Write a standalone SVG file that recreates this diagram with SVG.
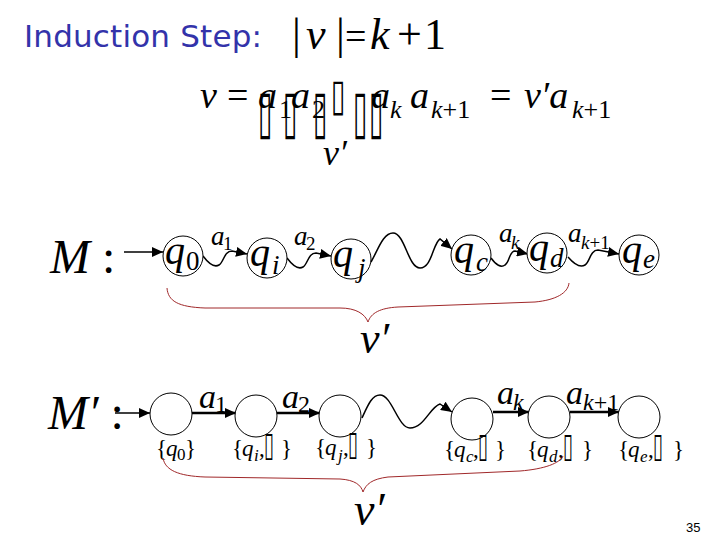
<svg xmlns="http://www.w3.org/2000/svg" width="720" height="540" viewBox="0 0 720 540">
<style>
.m{font-family:"Liberation Serif",serif;font-style:italic;fill:#000}
.r{font-style:normal}
.t{font-family:"DejaVu Sans",sans-serif;font-style:normal;fill:#000}
.st{fill:#fff;stroke:#000;stroke-width:1}
.edge{fill:none;stroke:#000;stroke-width:1.5}
.line{fill:none;stroke:#000;stroke-width:2.5}
.brace{fill:none;stroke:#a0282a;stroke-width:1}
</style>
<defs>
<marker id="ah" markerUnits="userSpaceOnUse" markerWidth="12" markerHeight="10" refX="11" refY="5" orient="auto"><path d="M0,0 L11,5 L0,10 z" fill="#000"/></marker>
</defs>
<rect width="720" height="540" fill="#fff"/>
<g id="title">
<text x="24" y="47" font-family="'DejaVu Sans',sans-serif" font-size="31" fill="#3333aa" textLength="238" lengthAdjust="spacing">Induction Step:</text>
<text class="m" y="49" font-size="44"><tspan class="r" x="292">|</tspan><tspan x="306">v</tspan><tspan class="r" x="336">|</tspan><tspan class="r" x="345" font-size="38">=</tspan><tspan x="370">k</tspan><tspan class="r" x="397">+</tspan><tspan class="r" x="424">1</tspan></text>
</g>
<g id="formula">
<text class="m" font-size="38"><tspan x="200" y="108">v</tspan><tspan class="r" x="227" y="108">=</tspan><tspan x="258" y="108">a</tspan><tspan class="r" x="279" y="118" font-size="26">1</tspan><tspan x="291" y="108">a</tspan><tspan class="r" x="312" y="118" font-size="26">2</tspan><tspan x="371" y="108">a</tspan><tspan x="390" y="118" font-size="26">k</tspan><tspan x="410" y="108">a</tspan><tspan x="431" y="118" font-size="26">k<tspan class="r">+1</tspan></tspan><tspan class="r" x="490" y="108">=</tspan><tspan x="524" y="108">v′a</tspan><tspan x="572" y="118" font-size="26">k<tspan class="r">+1</tspan></tspan></text>
<text class="t" font-size="26" transform="translate(331,110) scale(1,1.7)">▯</text>
<text class="t" font-size="26" transform="translate(258,132) scale(1,2.3)">▯</text>
<text class="t" font-size="26" transform="translate(283,132) scale(1,2.3)">▯</text>
<text class="t" font-size="26" transform="translate(313,132) scale(1,2.3)">▯</text>
<text class="t" font-size="26" transform="translate(353,132) scale(1,2.3)">▯</text>
<text class="t" font-size="26" transform="translate(369,132) scale(1,2.3)">▯</text>
<text class="m" x="323" y="165" font-size="36">v′</text>
</g>
<g id="M-label"><text class="m" x="50" y="273" font-size="48">M <tspan class="r">:</tspan></text></g>
<g id="M-connectors">
<path class="edge" d="M124,252 L163,252" marker-end="url(#ah)"/>
<path class="edge" d="M203,256 C209,264 214,268 219,265 C224,262 224,251 232,251 L247,254" marker-end="url(#ah)"/>
<path class="edge" d="M287,258 C293,266 298,270 303,267 C308,264 308,253 316,253 L331,256" marker-end="url(#ah)"/>
<path class="edge" d="M371,262 C378,250 383,233 393,233 C405,233 408,268 420,268 C432,268 433,243 440,239 L452,249" marker-end="url(#ah)"/>
<path class="edge" d="M491,258 C496,265 501,268 505,265 C510,262 509,251 515,251 L528,254" marker-end="url(#ah)"/>
<path class="edge" d="M568,257 C574,264 580,268 585,265 C590,262 590,250 598,250 L619,254" marker-end="url(#ah)"/>
<text class="m" font-size="27"><tspan x="211" y="245">a</tspan><tspan class="r" x="223" y="250" font-size="19">1</tspan><tspan x="294" y="245">a</tspan><tspan class="r" x="306" y="250" font-size="19">2</tspan><tspan x="499" y="242">a</tspan><tspan x="511" y="249" font-size="19">k</tspan><tspan x="568" y="242">a</tspan><tspan x="581" y="249" font-size="19">k<tspan class="r">+1</tspan></tspan></text>
</g>
<g id="M-q0"><circle class="st" cx="183" cy="256" r="20"/><text class="m" font-size="40"><tspan x="165" y="264">q</tspan><tspan class="r" x="186" y="270" font-size="27">0</tspan></text></g>
<g id="M-qi"><circle class="st" cx="267" cy="258" r="20"/><text class="m" font-size="40"><tspan x="250" y="266">q</tspan><tspan x="272" y="274" font-size="27">i</tspan></text></g>
<g id="M-qj"><circle class="st" cx="351" cy="259" r="20"/><text class="m" font-size="40"><tspan x="333" y="267">q</tspan><tspan x="358" y="277" font-size="27">j</tspan></text></g>
<g id="M-qc"><circle class="st" cx="471" cy="255" r="20"/><text class="m" font-size="40"><tspan x="454" y="263">q</tspan><tspan x="476" y="271" font-size="27">c</tspan></text></g>
<g id="M-qd"><circle class="st" cx="547" cy="253" r="20"/><text class="m" font-size="40"><tspan x="529" y="261">q</tspan><tspan x="550" y="267" font-size="27">d</tspan></text></g>
<g id="M-qe"><circle class="st" cx="639" cy="255" r="20"/><text class="m" font-size="40"><tspan x="622" y="263">q</tspan><tspan x="643" y="268" font-size="27">e</tspan></text></g>
<g id="M-brace">
<path class="brace" d="M167,288 C168,301 178,307 205,308 L340,308 C356,308 365,314 368,322 C371,313 380,308 398,307 L535,302 C556,300 568,293 569,283"/>
<text class="m" x="360" y="353" font-size="44">v′</text>
</g>
<g id="Mp-label"><text class="m" x="48" y="429" font-size="48">M′ <tspan class="r">:</tspan></text></g>
<g id="Mp-connectors">
<path class="edge" d="M115,413 L150,413" marker-end="url(#ah)"/>
<path class="line" d="M192,413 L236,413" marker-end="url(#ah)"/>
<path class="line" d="M277,413 L320,413" marker-end="url(#ah)"/>
<path class="edge" d="M362,418 C368,405 372,395 380,395 C392,395 398,428 410,428 C424,428 430,407 440,404 L452,412" marker-end="url(#ah)"/>
<path class="line" d="M493,412 L529,412" marker-end="url(#ah)"/>
<path class="line" d="M570,412 L619,412" marker-end="url(#ah)"/>
<text class="m" font-size="34"><tspan x="199" y="408">a</tspan><tspan class="r" x="215" y="412" font-size="24">1</tspan><tspan x="282" y="408">a</tspan><tspan class="r" x="298" y="412" font-size="24">2</tspan><tspan x="497" y="404">a</tspan><tspan x="513" y="410" font-size="24">k</tspan><tspan x="566" y="404">a</tspan><tspan x="583" y="410" font-size="24">k<tspan class="r">+1</tspan></tspan></text>
</g>
<g id="Mp-q0"><circle class="st" cx="171" cy="414" r="21"/><text class="m" font-size="23"><tspan class="r" x="156" y="456">{</tspan><tspan x="166" y="456">q</tspan><tspan class="r" x="177" y="460" font-size="17">0</tspan><tspan class="r" x="185" y="456">}</tspan></text></g>
<g id="Mp-qi"><circle class="st" cx="256" cy="416" r="21"/><text class="m" font-size="23"><tspan class="r" x="232" y="456">{</tspan><tspan x="242" y="456">q</tspan><tspan x="254" y="461" font-size="17">i</tspan><tspan class="r" x="259" y="456">,</tspan><tspan class="r" x="281" y="456">}</tspan></text><text class="t" font-size="18" transform="translate(264,456) scale(1,1.9)">▯</text></g>
<g id="Mp-qj"><circle class="st" cx="340" cy="416" r="21"/><text class="m" font-size="23"><tspan class="r" x="315" y="455">{</tspan><tspan x="325" y="455">q</tspan><tspan x="338" y="461" font-size="17">j</tspan><tspan class="r" x="343" y="455">,</tspan><tspan class="r" x="366" y="455">}</tspan></text><text class="t" font-size="18" transform="translate(348,455) scale(1,1.9)">▯</text></g>
<g id="Mp-qc"><circle class="st" cx="472" cy="419" r="21"/><text class="m" font-size="23"><tspan class="r" x="444" y="457">{</tspan><tspan x="454" y="457">q</tspan><tspan x="466" y="462" font-size="17">c</tspan><tspan class="r" x="473" y="457">,</tspan><tspan class="r" x="495" y="457">}</tspan></text><text class="t" font-size="18" transform="translate(478,457) scale(1,1.9)">▯</text></g>
<g id="Mp-qd"><circle class="st" cx="549" cy="417" r="21"/><text class="m" font-size="23"><tspan class="r" x="527" y="457">{</tspan><tspan x="537" y="457">q</tspan><tspan x="549" y="462" font-size="17">d</tspan><tspan class="r" x="558" y="457">,</tspan><tspan class="r" x="582" y="457">}</tspan></text><text class="t" font-size="18" transform="translate(563,457) scale(1,1.9)">▯</text></g>
<g id="Mp-qe"><circle class="st" cx="639" cy="417" r="21"/><text class="m" font-size="23"><tspan class="r" x="618" y="457">{</tspan><tspan x="628" y="457">q</tspan><tspan x="640" y="462" font-size="17">e</tspan><tspan class="r" x="648" y="457">,</tspan><tspan class="r" x="673" y="457">}</tspan></text><text class="t" font-size="18" transform="translate(653,457) scale(1,1.9)">▯</text></g>
<g id="Mp-brace">
<path class="brace" d="M163,458 C165,470 178,476 205,477 L340,479 C355,480 361,485 363,492 C366,484 372,479 388,477 L520,471 C545,469 560,463 563,456"/>
<text class="m" x="354" y="525" font-size="46">v′</text>
</g>
<text x="686" y="532" font-family="'Liberation Sans Narrow','Liberation Sans',sans-serif" font-size="13" fill="#000">35</text>
</svg>
